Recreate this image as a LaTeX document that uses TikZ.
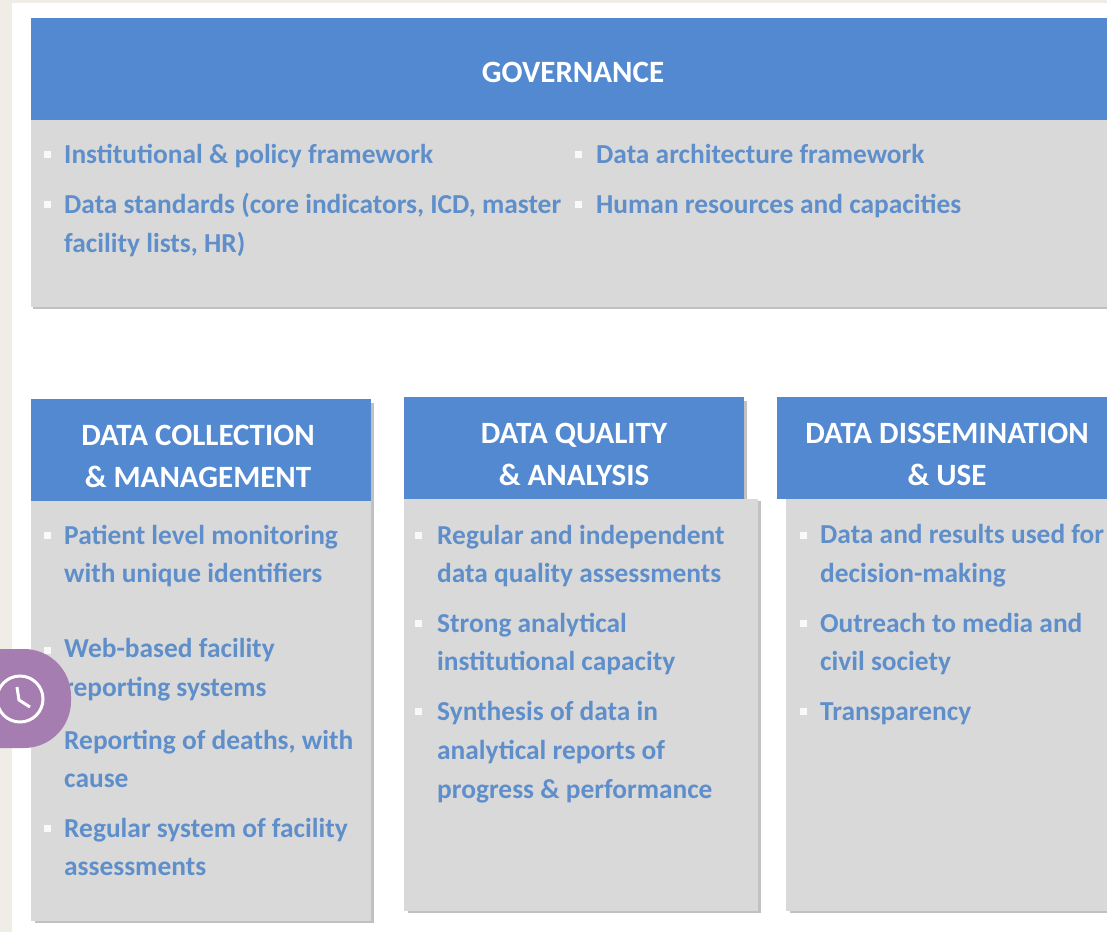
\documentclass[tikz,border=0pt]{standalone}
\usepackage{fontspec}
\setmainfont{Carlito}
\definecolor{headblue}{HTML}{5289D0}
\definecolor{panelgray}{HTML}{D9D9D9}
\definecolor{shadegray}{HTML}{8F8F8F}
\definecolor{itemblue}{HTML}{5F8FCB}
\definecolor{pagecream}{HTML}{EFEDE6}
\definecolor{clockpurple}{HTML}{A67DB0}
\tikzset{
  headtext/.style={text=white,font=\fontsize{31}{42}\selectfont\bfseries,align=center,inner sep=0pt},
  itemtext/.style={text=itemblue,font=\fontsize{27.4}{38.7}\selectfont\bfseries,align=left,anchor=west,inner sep=0pt},
  shade/.style={shadegray,opacity=0.55}
}
\begin{document}
\begin{tikzpicture}[x=1pt,y=-1pt]
  \useasboundingbox (0,0) rectangle (1107,932);
  % page
  \fill[pagecream] (0,0) rectangle (1107,932);
  \fill[white] (12,3) rectangle (1107,932);

  % shadows
  \fill[shade] (33,121) rectangle (1107,309);
  \fill[shade] (35,403) rectangle (374,923);
  \fill[shade] (408,401) rectangle (747,499);
  \fill[shade] (408,501) rectangle (761,913);
  \fill[shade] (790,501) rectangle (1107,913);

  % panels
  \fill[panelgray] (31,120) rectangle (1107,307);
  \fill[panelgray] (31,501) rectangle (371,921);
  \fill[panelgray] (404,499) rectangle (758,911);
  \fill[panelgray] (786,499) rectangle (1107,911);

  % headers
  \fill[headblue] (31,18) rectangle (1107,120);
  \fill[headblue] (31,399) rectangle (371,501);
  \fill[headblue] (404,397) rectangle (744,499);
  \fill[headblue] (777,397) rectangle (1107,499);
  \node[headtext] (governance) at (573,72) {GOVERNANCE};
  \node[headtext] (collection) at (198,456) {DATA COLLECTION\\\& MANAGEMENT};
  \node[headtext] (quality) at (574,454) {DATA QUALITY\\\& ANALYSIS};
  \node[headtext] (dissemination) at (947,454) {DATA DISSEMINATION\\\& USE};

  % bullets
  \foreach \x/\y in {47/154,47/204,578/154,578/204,47/535,47/650,47/828,418/535,418/623,418/711,803/535,803/623,803/711}
    \fill[white!85!panelgray] (\x-3.5,\y-3.5) rectangle (\x+3.5,\y+3.5);

  % governance items
  \node[itemtext] (policy) at (64,156) {Institutional \& policy framework};
  \node[itemtext] (standards) at (64,225) {Data standards (core indicators, ICD, master\\facility lists, HR)};
  \node[itemtext] (architecture) at (596,154) {Data architecture framework};
  \node[itemtext] (resources) at (596,206) {Human resources and capacities};

  % collection items
  \node[itemtext] (patient) at (64,556) {Patient level monitoring\\with unique identifiers};
  \node[itemtext] (web) at (64,670) {Web-based facility\\reporting systems};
  \node[itemtext] (deaths) at (64,759) {Reporting of deaths, with\\cause};
  \node[itemtext] (assess) at (64,847) {Regular system of facility\\assessments};

  % quality items
  \node[itemtext] (regular) at (437,556) {Regular and independent\\data quality assessments};
  \node[itemtext] (strong) at (437,644) {Strong analytical\\institutional capacity};
  \node[itemtext] (synthesis) at (437,752) {Synthesis of data in\\analytical reports of\\progress \& performance};

  % dissemination items
  \node[itemtext] (results) at (820,556) {Data and results used for\\decision-making};
  \node[itemtext] (outreach) at (820,644) {Outreach to media and\\civil society};
  \node[itemtext] (transparency) at (820,714) {Transparency};

  % clock badge
  \fill[clockpurple,rounded corners=47pt] (-60,649) rectangle (71,748);
  \draw[white,line width=3pt] (20,699) circle (23);
  \draw[white,line width=3pt] (17,687) -- (19,700) -- (30,707);
\end{tikzpicture}
\end{document}
